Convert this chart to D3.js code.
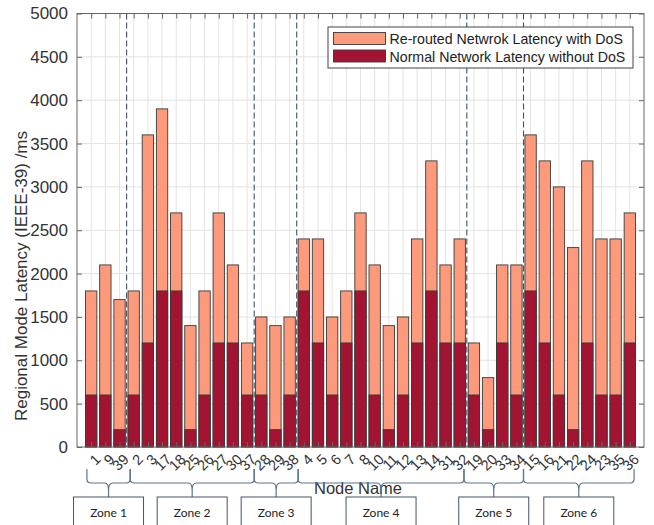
<!DOCTYPE html>
<html>
<head>
<meta charset="utf-8">
<script src="https://cdn.jsdelivr.net/npm/d3@7"></script>
<style>
  html, body { margin: 0; padding: 0; background: #ffffff; }
  svg { display: block; font-family: Arial, "Liberation Sans", sans-serif; }
</style>
</head>
<body>
<svg id="chart" width="654" height="525"></svg>
<script>
// Node names in zone order
const nodes = ["1","9","39","2","3","17","18","25","26","27","30","37","28","29","38",
  "4","5","6","7","8","10","11","12","13","14","31","32","19","20","33","34",
  "15","16","21","22","24","23","35","36"];

// Re-routed latency with DoS (ms)
const reroutedDoS = [1800,2100,1700,1800,3600,3900,2700,1400,1800,2700,2100,1200,1500,1400,1500,
  2400,2400,1500,1800,2700,2100,1400,1500,2400,3300,2100,2400,1200,800,2100,2100,
  3600,3300,3000,2300,3300,2400,2400,2700];

// Normal latency without DoS (ms)
const normalNoDoS = [600,600,200,600,1200,1800,1800,200,600,1200,1200,600,600,200,600,
  1800,1200,600,1200,1800,600,200,600,1200,1800,1200,1200,600,200,1200,600,
  1800,1200,600,200,1200,600,600,1200];

const yTicks = [0,500,1000,1500,2000,2500,3000,3500,4000,4500,5000];

// Zone names and their spans along the bar axis (bar index units)
const zoneNames = ["Zone 1","Zone 2","Zone 3","Zone 4","Zone 5","Zone 6"];
const zoneBounds = [0.7, 3.75, 12.5, 15.6, 27.3, 31.5, 39.3];
// Dashed separators between zones
const zoneSeparators = [3.5, 12.5, 15.5, 27.5, 31.5];

const legendLabels = ["Re-routed Netwrok Latency with DoS", "Normal Network Latency without DoS"];

const colDoS = "#fc9a7b";
const colNormal = "#a31432";

const svg = d3.select("#chart");
const L = 77, R = 644, T = 13.5, B = 447;

const x = d3.scaleLinear().domain([0, nodes.length + 1]).range([L, R]);
const y = d3.scaleLinear().domain([0, 5000]).range([B, T]);
const bw = (x(1) - x(0)) * 0.8;

// grid
const grid = svg.append("g");
grid.selectAll("line.v").data(d3.range(1, nodes.length + 1)).join("line")
  .attr("x1", d => x(d)).attr("x2", d => x(d)).attr("y1", T).attr("y2", B)
  .attr("stroke", "#e3e3e3").attr("stroke-width", 1);
grid.selectAll("line.h").data(yTicks.slice(1, -1)).join("line")
  .attr("x1", L).attr("x2", R).attr("y1", d => y(d)).attr("y2", d => y(d))
  .attr("stroke", "#e3e3e3").attr("stroke-width", 1);

// bars
const bars = svg.append("g");
bars.selectAll("rect.dos").data(reroutedDoS).join("rect")
  .attr("x", (d, i) => x(i + 1) - bw / 2).attr("width", bw)
  .attr("y", d => y(d)).attr("height", d => y(0) - y(d))
  .attr("fill", colDoS).attr("stroke", "#3a3a3a").attr("stroke-width", 0.9);
bars.selectAll("rect.norm").data(normalNoDoS).join("rect")
  .attr("x", (d, i) => x(i + 1) - bw / 2).attr("width", bw)
  .attr("y", d => y(d)).attr("height", d => y(0) - y(d))
  .attr("fill", colNormal).attr("stroke", "#3a3a3a").attr("stroke-width", 0.9);

// zone separators
svg.append("g").selectAll("line").data(zoneSeparators).join("line")
  .attr("x1", d => x(d)).attr("x2", d => x(d)).attr("y1", T).attr("y2", B)
  .attr("stroke", "#3d5266").attr("stroke-width", 1.1).attr("stroke-dasharray", "6,3");

// axes box and ticks
const axisCol = "#666";
const xTickVals = d3.range(1, nodes.length + 1);
const gx = svg.append("g").attr("transform", `translate(0,${B})`)
  .call(d3.axisBottom(x).tickValues(xTickVals).tickSize(-5).tickFormat(""));
const gxt = svg.append("g").attr("transform", `translate(0,${T})`)
  .call(d3.axisTop(x).tickValues(xTickVals).tickSize(-5).tickFormat(""));
const gy = svg.append("g").attr("transform", `translate(${L},0)`)
  .call(d3.axisLeft(y).tickValues(yTicks).tickSize(-5).tickPadding(9).tickFormat(d3.format("d")));
const gyr = svg.append("g").attr("transform", `translate(${R},0)`)
  .call(d3.axisRight(y).tickValues(yTicks).tickSize(-5).tickFormat(""));
[gx, gxt, gy, gyr].forEach(g => {
  g.select(".domain").remove();
  g.selectAll(".tick line").attr("stroke", axisCol);
});
gy.selectAll(".tick text").attr("font-size", 17).attr("fill", "#333")
  .attr("font-family", "Arial, 'Liberation Sans', sans-serif");
svg.append("rect").attr("x", L).attr("y", T).attr("width", R - L).attr("height", B - T)
  .attr("fill", "none").attr("stroke", axisCol).attr("stroke-width", 1);

// rotated node labels
svg.append("g").selectAll("text").data(nodes).join("text")
  .attr("transform", (d, i) => `translate(${x(i + 1) + 3},${B + 6}) rotate(-45)`)
  .attr("text-anchor", "end").attr("dy", "0.7em")
  .attr("font-size", 14.5).attr("fill", "#333").text(d => d);

// axis titles
svg.append("text").attr("transform", "translate(27,276) rotate(-90)")
  .attr("text-anchor", "middle").attr("font-size", 17).attr("fill", "#333")
  .text("Regional Mode Latency (IEEE-39) /ms");
svg.append("text").attr("x", 358).attr("y", 494)
  .attr("text-anchor", "middle").attr("font-size", 16.5).attr("fill", "#333")
  .text("Node Name");

// legend
const lg = svg.append("g");
lg.append("rect").attr("x", 328).attr("y", 27).attr("width", 305).attr("height", 41)
  .attr("fill", "#fff").attr("stroke", "#444").attr("stroke-width", 1);
[colDoS, colNormal].forEach((c, i) => {
  lg.append("rect").attr("x", 333.5).attr("y", 32.5 + i * 17.5).attr("width", 52).attr("height", 12)
    .attr("fill", c).attr("stroke", "#3a3a3a").attr("stroke-width", 0.9);
  lg.append("text").attr("x", 389.5).attr("y", 44 + i * 17.5)
    .attr("font-size", 14.2).attr("fill", "#222").text(legendLabels[i]);
});

// zone braces and boxes
const bTop = 469, bMid = 483, bTip = 490, boxTop = 497, boxW = 70;
const zones = zoneNames.map((name, i) => {
  const x0 = x(zoneBounds[i]), x1 = x(zoneBounds[i + 1]);
  return { name, x0, x1, xc: (x0 + x1) / 2 };
});
const zg = svg.append("g");
zg.selectAll("path").data(zones).join("path")
  .attr("d", z => {
    const r = 4;
    return `M${z.x0},${bTop} L${z.x0},${bMid - r} Q${z.x0},${bMid} ${z.x0 + r},${bMid}` +
      ` L${z.xc - r},${bMid} Q${z.xc},${bMid} ${z.xc},${bTip}` +
      ` Q${z.xc},${bMid} ${z.xc + r},${bMid} L${z.x1 - r},${bMid}` +
      ` Q${z.x1},${bMid} ${z.x1},${bMid - r} L${z.x1},${bTop}` +
      ` M${z.xc},${bTip} L${z.xc},${boxTop}`;
  })
  .attr("fill", "none").attr("stroke", "#5a7490").attr("stroke-width", 1.2);
zg.selectAll("rect").data(zones).join("rect")
  .attr("x", z => z.xc - boxW / 2).attr("y", boxTop).attr("width", boxW).attr("height", 40)
  .attr("fill", "#fff").attr("stroke", "#44546a").attr("stroke-width", 1);
zg.selectAll("text").data(zones).join("text")
  .attr("x", z => z.xc).attr("y", 517).attr("text-anchor", "middle")
  .attr("font-family", "Lato, 'Open Sans', sans-serif").attr("font-size", 12)
  .attr("fill", "#222").text(z => z.name);
</script>
</body>
</html>
